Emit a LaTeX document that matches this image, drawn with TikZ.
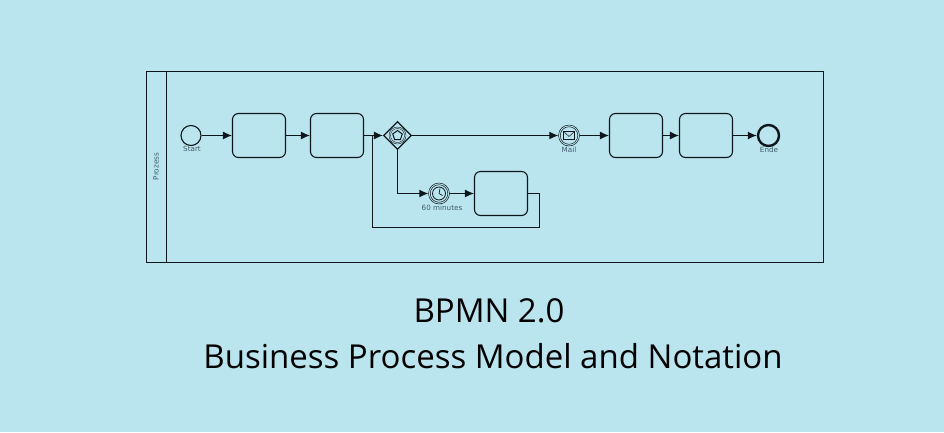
\documentclass[tikz,border=0pt]{standalone}
\usepackage{fontspec}
\setmainfont{Open Sans}
\newfontfamily\labelfont{DejaVu Sans}
\usetikzlibrary{arrows.meta,positioning,calc,shapes.geometric}
\definecolor{paleblue}{HTML}{BAE5EF}
\definecolor{inkline}{HTML}{0C161B}
\definecolor{labelgrey}{HTML}{3F5A66}
\tikzset{
  flow/.style={draw=inkline,line width=1.1pt,-{Latex[length=9pt,width=8pt]}},
  plainflow/.style={draw=inkline,line width=1.1pt},
  taskbox/.style={draw=inkline,line width=1.1pt,rounded corners=6pt,minimum width=53pt,minimum height=44pt,inner sep=0pt},
  eventring/.style={draw=inkline,circle,line width=1.1pt,minimum size=20pt,inner sep=0pt},
  eventlabel/.style={font=\labelfont\fontsize{7.2}{8}\selectfont,text=labelgrey,inner sep=0pt},
  titletext/.style={font=\fontsize{33}{38}\selectfont,text=black,inner sep=0pt}
}
\begin{document}
\begin{tikzpicture}[x=1pt,y=-1pt]
\fill[paleblue] (0,0) rectangle (944,432);
\useasboundingbox (0,0) rectangle (944,432);
% lane
\node[draw=inkline,line width=1.1pt,minimum width=677pt,minimum height=191pt,inner sep=0pt] (lane) at (485,167) {};
\coordinate (headtop) at (166.5,71.5);
\coordinate (headbot) at (166.5,262.5);
\draw[plainflow] (headtop) -- (headbot);
\node[eventlabel,rotate=90] (lanename) at (156,166.5) {Prozess};
% upper row
\node[eventring] (start) at (191,135.5) {};
\node[eventlabel] (startname) at (192,149) {Start};
\node[taskbox] (taskA) at (259,135.5) {};
\node[taskbox] (taskB) at (337,135.5) {};
\node[draw=inkline,diamond,aspect=1,line width=1.2pt,minimum size=28pt,inner sep=0pt] (gate) at (397.5,135.5) {};
\draw[inkline,line width=0.4pt] (gate.center) circle (8.5pt) (gate.center) circle (7pt);
\node[draw=inkline,regular polygon,regular polygon sides=5,line width=1pt,minimum size=10pt,inner sep=0pt] (gatemark) at (397.5,135.5) {};
\node[eventring,minimum size=21pt,line width=0.5pt] (mail) at (569,135.5) {};
\draw[inkline,line width=0.5pt] (mail.center) circle (8.8pt);
\node[draw=inkline,line width=0.7pt,minimum width=11pt,minimum height=8pt,inner sep=0pt] (envelope) at (569,135.5) {};
\draw[inkline,line width=0.5pt] (envelope.north west) -- (569,136.5) -- (envelope.north east);
\node[eventlabel] (mailname) at (569,150) {Mail};
\node[taskbox] (taskC) at (636,135.5) {};
\node[taskbox] (taskD) at (706,135.5) {};
\node[eventring,minimum size=21pt,line width=2.4pt] (finish) at (768.5,135.5) {};
\node[eventlabel] (finishname) at (769,150) {Ende};
% lower row
\node[eventring,minimum size=21pt,line width=0.5pt] (timer) at (439,193.5) {};
\draw[inkline,line width=0.5pt] (timer.center) circle (8.8pt);
\node[draw=inkline,circle,line width=0.8pt,minimum size=13pt,inner sep=0pt] (clock) at (439,193.5) {};
\draw[inkline,line width=0.7pt] (clock.center) -- ++(1,-5) (clock.center) -- ++(3.5,2);
\node[eventlabel] (timername) at (442,208) {60 minutes};
\node[taskbox] (taskE) at (501,193.5) {};
% connectors
\coordinate (join) at (372.5,135.5);
\coordinate (loopA) at (539.5,193.5);
\coordinate (loopB) at (539.5,227.5);
\coordinate (loopC) at (372.5,227.5);
\draw[flow] (start) -- (taskA);
\draw[flow] (taskA) -- (taskB);
\draw[flow] (taskB) -- (gate);
\draw[flow] (gate) -- (mail);
\draw[flow] (mail) -- (taskC);
\draw[flow] (taskC) -- (taskD);
\draw[flow] (taskD) -- (finish);
\draw[flow] (gate) |- (timer);
\draw[flow] (timer) -- (taskE);
\draw[plainflow] (taskE.east) -- (loopA) -- (loopB) -- (loopC) -- (join);
% title
\node[titletext] (title) at (489,311) {BPMN 2.0};
\node[titletext] (subtitle) at (493,356) {Business Process Model and Notation};
\end{tikzpicture}
\end{document}
